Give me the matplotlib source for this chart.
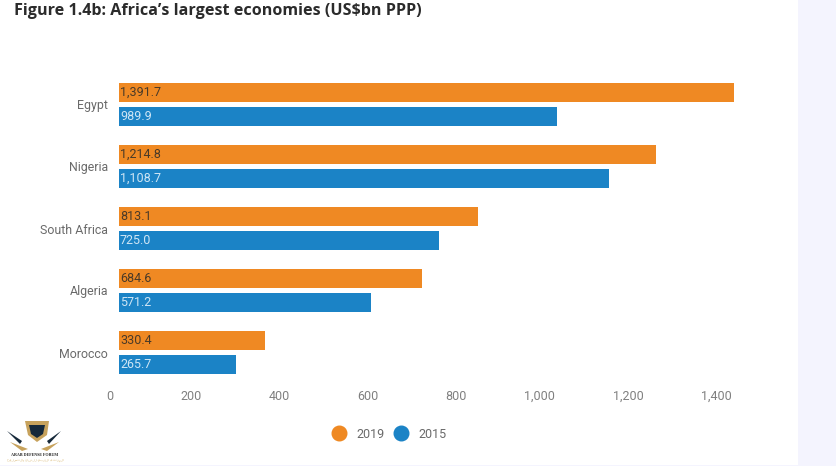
import numpy as np
import matplotlib
matplotlib.use('Agg')
import matplotlib.pyplot as plt
from matplotlib.patches import Polygon, Rectangle
from matplotlib.transforms import ScaledTranslation

countries = ['Egypt', 'Nigeria', 'South Africa', 'Algeria', 'Morocco']
values_2019 = [1391.7, 1214.8, 813.1, 684.6, 330.4]
values_2015 = [989.9, 1108.7, 725.0, 571.2, 265.7]
xticks = [0, 200, 400, 600, 800, 1000, 1200, 1400]

W, H = 837, 466
plt.rcParams['font.family'] = 'Roboto'
fig = plt.figure(figsize=(W / 100, H / 100), dpi=100, facecolor='white')

# pale strips on the right and bottom of the page
fig.patches.append(Rectangle((798 / W, 0), 39 / W, 1, transform=fig.transFigure, color='#F4F4FE', lw=0))
fig.patches.append(Rectangle((0, 0), 1, 1.5 / H, transform=fig.transFigure, color='#F4F4FE', lw=0))

# axes spans pixels x 119-761, y 73.5-383.5
ax = fig.add_axes([119 / W, (H - 383.5) / H, 642 / W, 310 / H])
ax.patch.set_alpha(0)
ax.set_xlim(0, 642 / 0.442)
ax.set_ylim(4.5, -0.5)

ind = np.arange(len(countries))
off = 12 / 62
h = 19.5 / 62
bars_a = ax.barh(ind - off, values_2019, h, color='#EF8923', label='2019')
bars_b = ax.barh(ind + off, values_2015, h, color='#1B83C6', label='2015')

for b, v in zip(bars_a, values_2019):
    ax.text(1 / 0.442, b.get_y() + h / 2, f'{v:,.1f}', va='center', ha='left', fontsize=9.0, color='#4a3a28')
for b, v in zip(bars_b, values_2015):
    ax.text(1 / 0.442, b.get_y() + h / 2, f'{v:,.1f}', va='center', ha='left', fontsize=9.0, color='#CFE6F5')

for s in ax.spines.values():
    s.set_visible(False)
ax.tick_params(length=0)
ax.set_yticks(ind)
ax.set_yticklabels(countries, fontsize=8.9, color='#6a6a6a')
ax.tick_params(axis='y', pad=8)
ax.set_xticks(xticks)
ax.set_xticklabels([f'{t:,}' for t in xticks], fontsize=9.0, color='#808080', ha='right')
ax.tick_params(axis='x', pad=4.5)
shift = ScaledTranslation(-6 / 100, 0, fig.dpi_scale_trans)
for lab in ax.get_xticklabels():
    lab.set_transform(lab.get_transform() + shift)

fig.text(14 / W, 1 - 11 / H, 'Figure 1.4b: Africa\u2019s largest economies (US$bn PPP)',
         fontsize=11.6, fontweight='bold', family='Open Sans', color='#2b2b2b', va='center', ha='left')

handles = [plt.Line2D([], [], ls='', marker='o', ms=10.5, color=c) for c in ('#EF8923', '#1B83C6')]
fig.legend(handles, ['2019', '2015'], loc='center', bbox_to_anchor=(389 / W, 1 - 434 / H), ncol=2, frameon=False,
           fontsize=9.0, labelcolor='#6a6a6a', handletextpad=0.75, columnspacing=0.75, handlelength=1.2)

# rough watermark in the lower left corner
def px(points):
    return [(x / W, 1 - y / H) for x, y in points]

for pts, c in [
    ([(25, 421), (49, 421), (47, 435), (37, 442), (28, 435)], '#C7A25C'),
    ([(29, 425), (45, 425), (43, 434), (37, 438), (31, 434)], '#16293A'),
    ([(7, 431), (22, 441), (20, 444)], '#16293A'),
    ([(61, 431), (47, 441), (49, 444)], '#16293A'),
    ([(10, 442), (28, 449), (22, 451)], '#C7A25C'),
    ([(59, 442), (41, 449), (47, 451)], '#C7A25C'),
]:
    fig.patches.append(Polygon(px(pts), closed=True, transform=fig.transFigure, color=c, lw=0))
fig.text(35 / W, 1 - 455 / H, 'ARAB DEFENSE FORUM', fontsize=3.0, fontweight='bold', color='#222222', ha='center', va='center', family='Liberation Serif')
fig.text(35 / W, 1 - 460.5 / H, 'المنتدى العربي للدفاع والتسليح'[::-1], fontsize=2.2, color='#D9B978', ha='center', va='center', family='DejaVu Sans')

fig.savefig('out.png', dpi=100)
